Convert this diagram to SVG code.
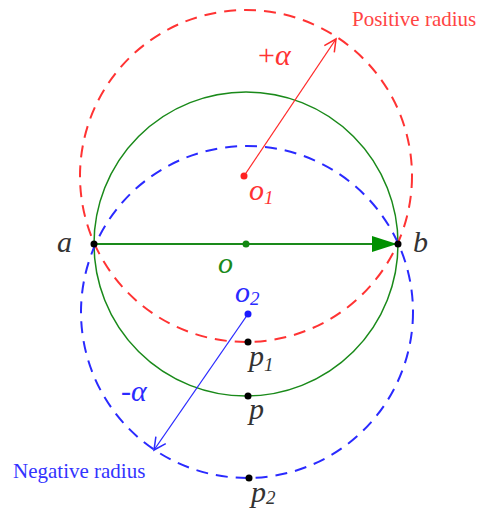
<svg xmlns="http://www.w3.org/2000/svg" width="477" height="511" viewBox="0 0 477 511">
<style>
.lbl{font-family:"Liberation Serif","Times New Roman",serif;font-style:italic;font-size:30px}
.sub{font-size:19px}
.cap{font-family:"Liberation Serif","Times New Roman",serif;font-size:21px}
.dash{fill:none;stroke-width:2;stroke-dasharray:12 8}
</style>
<defs>
<marker id="openR" viewBox="0 0 16 16" refX="14" refY="8" markerWidth="16" markerHeight="16" markerUnits="userSpaceOnUse" orient="auto">
<path d="M2,2 L14,8 L2,14" fill="none" stroke="#ff2a2a" stroke-width="1.5"/>
</marker>
<marker id="openB" viewBox="0 0 16 16" refX="14" refY="8" markerWidth="16" markerHeight="16" markerUnits="userSpaceOnUse" orient="auto">
<path d="M2,2 L14,8 L2,14" fill="none" stroke="#2a2aff" stroke-width="1.5"/>
</marker>
<marker id="triG" viewBox="0 0 25 16" refX="25" refY="8" markerWidth="25" markerHeight="16" markerUnits="userSpaceOnUse" orient="auto">
<path d="M0,0 L25,8 L0,16 z" fill="#009000"/>
</marker>
</defs>
<g id="circles">
<circle id="green-circle" cx="246" cy="244" r="152" fill="none" stroke="#1a8a1a" stroke-width="1.5"/>
<circle id="red-circle" class="dash" cx="246" cy="176" r="166" stroke="#ff3333"/>
<circle id="blue-circle" class="dash" cx="247" cy="312" r="166" stroke="#2a2aff"/>
</g>
<g id="connectors">
<line x1="94" y1="244" x2="397" y2="244" stroke="#1a8a1a" stroke-width="2" marker-end="url(#triG)"/>
<line x1="244" y1="176" x2="336" y2="39" stroke="#ff2a2a" stroke-width="1.3" marker-end="url(#openR)"/>
<line x1="248" y1="314" x2="154" y2="450" stroke="#2a2aff" stroke-width="1.3" marker-end="url(#openB)"/>
</g>
<g id="node-a"><circle cx="94" cy="244" r="3.5" fill="#000"/><text class="lbl" x="57" y="252" fill="#333">a</text></g>
<g id="node-b"><circle cx="398" cy="244" r="3.5" fill="#000"/><text class="lbl" x="413" y="252" fill="#333">b</text></g>
<g id="node-o"><circle cx="246" cy="244" r="3.5" fill="#118811"/><text class="lbl" x="218" y="273" fill="#1a8a1a">o</text></g>
<g id="node-o1"><circle cx="244" cy="176" r="3.5" fill="#ff2222"/><text class="lbl" x="249" y="200" fill="#ff3333">o<tspan class="sub" dy="4">1</tspan></text></g>
<g id="node-o2"><circle cx="248" cy="314" r="3.5" fill="#1a1aff"/><text class="lbl" x="235" y="302" fill="#2a2aff">o<tspan class="sub" dy="3">2</tspan></text></g>
<g id="node-p1"><circle cx="248" cy="342" r="3.5" fill="#000"/><text class="lbl" x="249" y="366" fill="#333">p<tspan class="sub" dy="5">1</tspan></text></g>
<g id="node-p"><circle cx="248" cy="396" r="3.5" fill="#000"/><text class="lbl" x="249" y="419" fill="#333">p</text></g>
<g id="node-p2"><circle cx="249" cy="478" r="3.5" fill="#000"/><text class="lbl" x="251" y="502" fill="#333">p<tspan class="sub" dy="2">2</tspan></text></g>
<g id="labels">
<text class="lbl" x="258" y="65" fill="#ff3333"><tspan font-style="normal">+</tspan>α</text>
<text class="lbl" x="121" y="401" fill="#2a2aff"><tspan font-style="normal">-</tspan>α</text>
<text class="cap" x="352" y="26" fill="#ff4444">Positive radius</text>
<text class="cap" x="13" y="478" fill="#3333ff">Negative radius</text>
</g>
</svg>
